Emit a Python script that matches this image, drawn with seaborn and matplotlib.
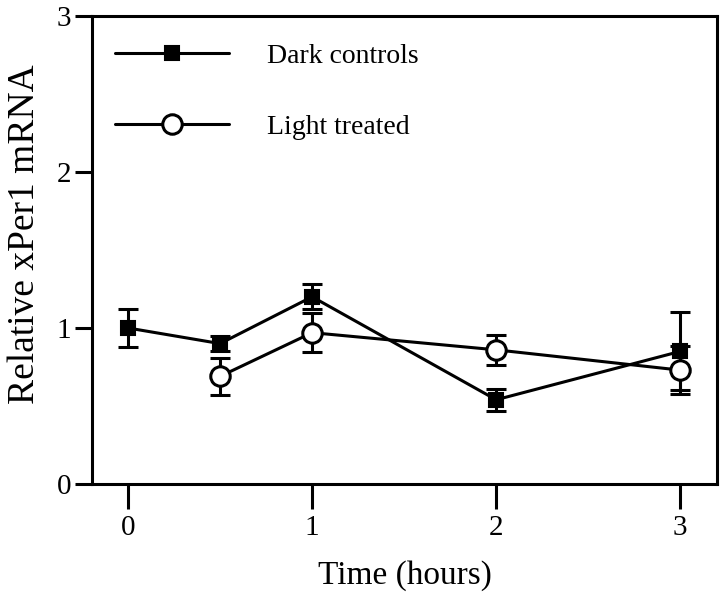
import numpy as np
import pandas as pd
import matplotlib
matplotlib.use("Agg")
from matplotlib import pyplot as plt
import seaborn as sns

# Data
dark_time = [0, 0.5, 1, 2, 3]
dark_mean = [1.00, 0.90, 1.20, 0.54, 0.85]
dark_err = [0.12, 0.05, 0.08, 0.07, 0.25]

light_time = [0.5, 1, 2, 3]
light_mean = [0.69, 0.97, 0.86, 0.73]
light_err = [0.12, 0.125, 0.095, 0.155]

sns.set_theme(style="ticks")
plt.rcParams['font.family'] = ['Liberation Serif', 'DejaVu Serif']
plt.rcParams['text.color'] = 'black'
plt.rcParams['axes.labelcolor'] = 'black'
plt.rcParams['xtick.color'] = 'black'
plt.rcParams['ytick.color'] = 'black'

dark = pd.DataFrame({'time': dark_time, 'mrna': dark_mean})
light = pd.DataFrame({'time': light_time, 'mrna': light_mean})

fig = plt.figure(figsize=(7.2, 5.99), dpi=100)
ax = fig.add_axes([92 / 720, 1 - 484 / 599, 625 / 720, 468 / 599])

lw = 2.2
# error bars behind the markers
ax.errorbar(dark_time, dark_mean, yerr=dark_err, fmt='none', ecolor='black',
            elinewidth=lw, capsize=7, capthick=lw, zorder=2)
ax.errorbar(light_time, light_mean, yerr=light_err, fmt='none', ecolor='black',
            elinewidth=lw, capsize=7, capthick=lw, zorder=2)

sns.lineplot(data=dark, x='time', y='mrna', ax=ax, color='black', lw=lw,
             marker='s', markersize=10, markerfacecolor='black',
             markeredgecolor='black', markeredgewidth=1.5,
             label='Dark controls', zorder=3)
sns.lineplot(data=light, x='time', y='mrna', ax=ax, color='black', lw=lw,
             marker='o', markersize=14, markerfacecolor='white',
             markeredgecolor='black', markeredgewidth=lw,
             label='Light treated', zorder=4)

ax.set_xlim(-0.196, 3.2)
ax.set_ylim(0, 3)
ax.set_xticks([0, 1, 2, 3])
ax.set_yticks([0, 1, 2, 3])
ax.set_xlabel('Time (hours)', fontsize=24, labelpad=14)
ax.set_ylabel('Relative xPer1 mRNA', fontsize=27)
ax.yaxis.set_label_coords(-0.08, 0.533)

for s in ax.spines.values():
    s.set_linewidth(lw)
    s.set_color('black')
ax.tick_params(axis='x', direction='out', length=18, width=lw, labelsize=21,
               pad=4)
ax.tick_params(axis='y', direction='out', length=12, width=lw, labelsize=21,
               pad=3)

ax.legend(loc='upper left', bbox_to_anchor=(0.037, 0.941), frameon=False,
          fontsize=20, handlelength=4.1, handletextpad=1.38, labelspacing=1.64,
          borderaxespad=0, borderpad=0)

fig.savefig('out.png', dpi=100)
